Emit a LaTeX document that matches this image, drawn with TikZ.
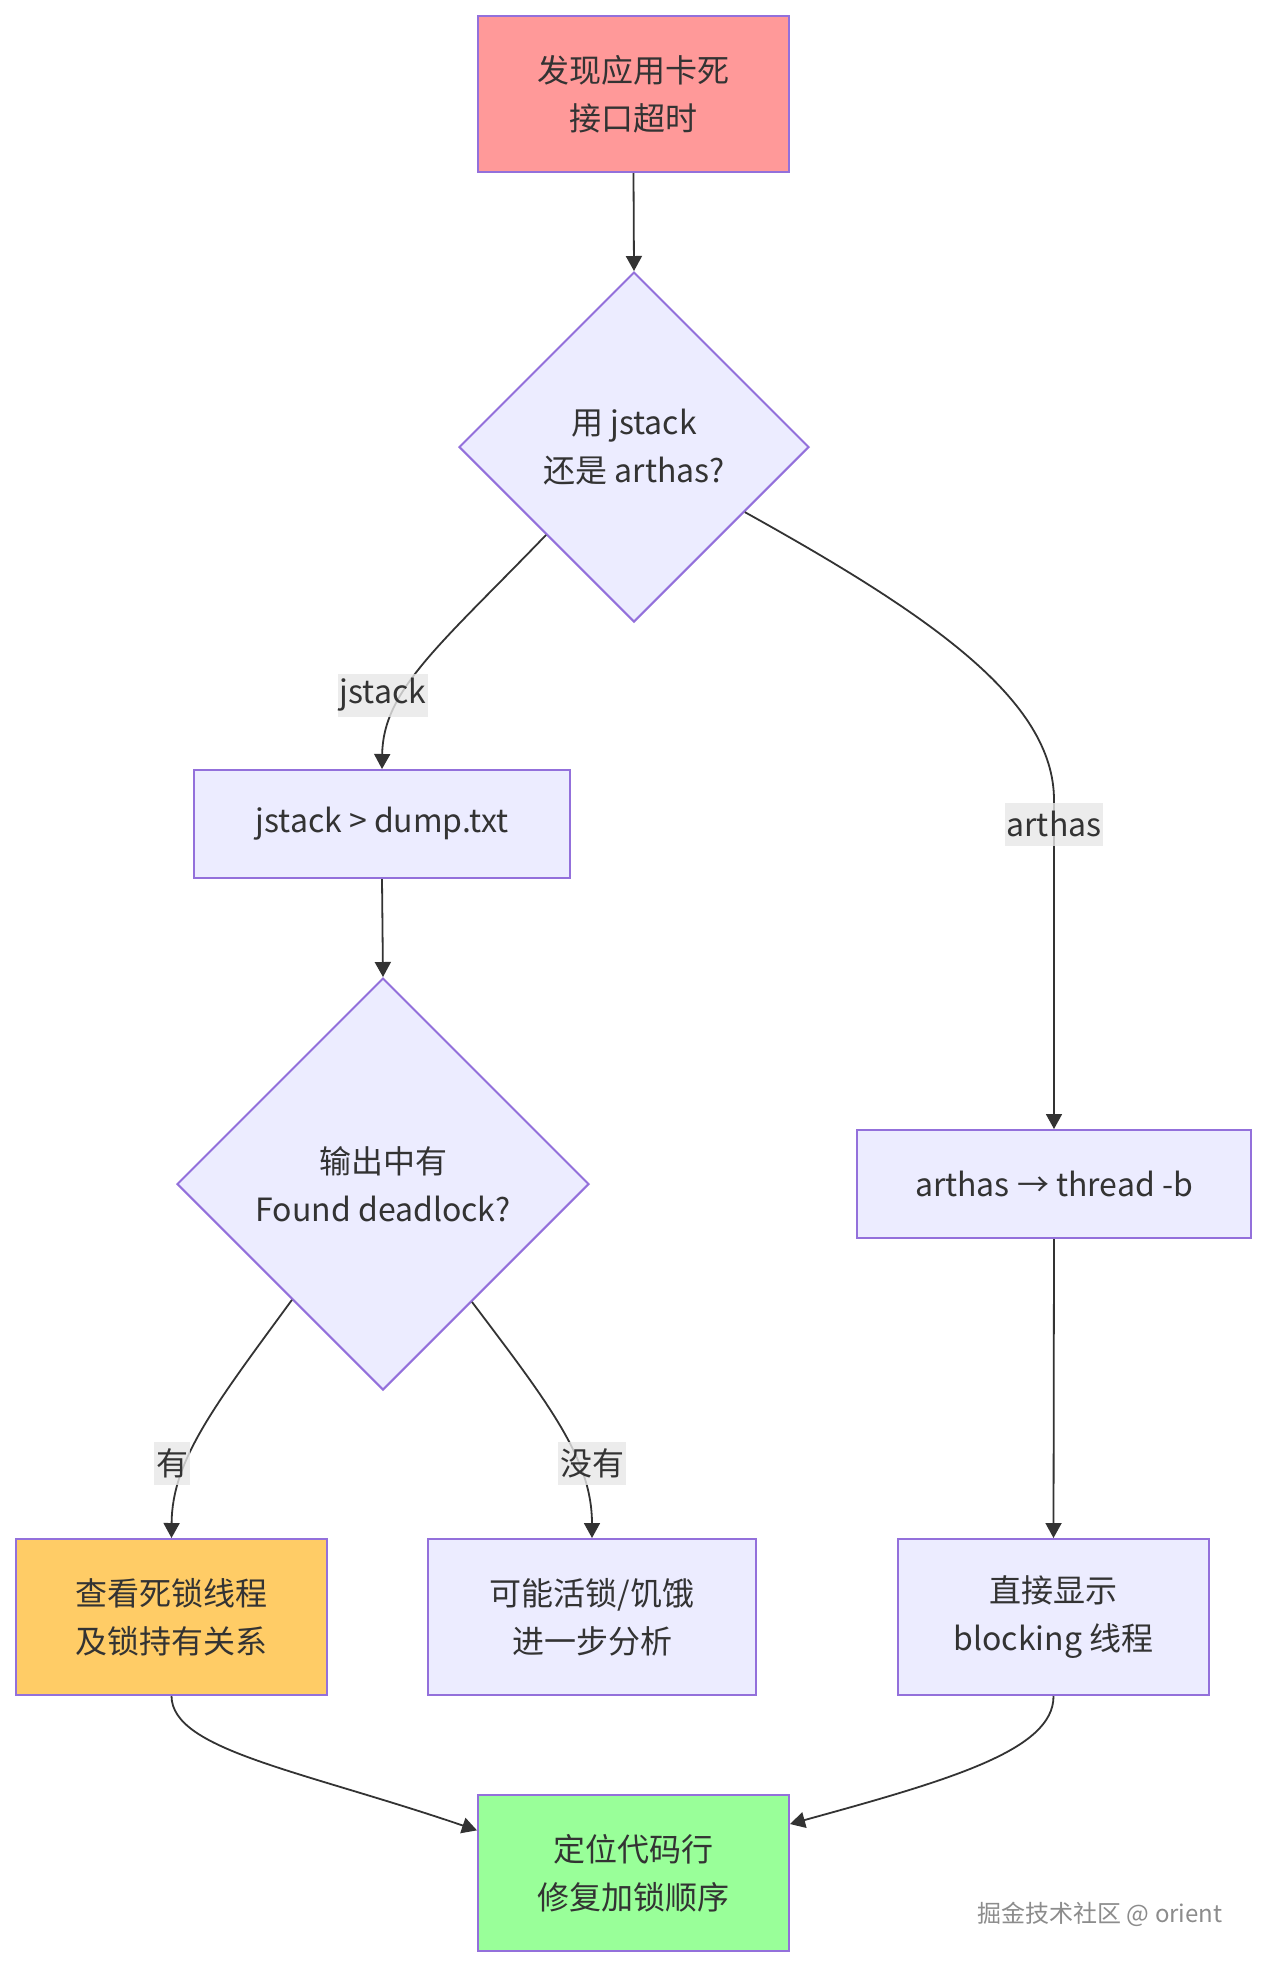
\documentclass[tikz,border=0pt]{standalone}
\usepackage{fontspec}
\setmainfont{Noto Sans CJK SC}
\usetikzlibrary{shapes.geometric, arrows.meta, calc}

\definecolor{nodefill}{HTML}{ECECFF}
\definecolor{nodestroke}{HTML}{9370DB}
\definecolor{edgecol}{HTML}{333333}
\definecolor{txt}{HTML}{333333}
\definecolor{pinkfill}{HTML}{FF9999}
\definecolor{orangefill}{HTML}{FFCC66}
\definecolor{greenfill}{HTML}{99FF99}
\definecolor{lblbg}{HTML}{E8E8E8}
\definecolor{wmark}{HTML}{8C8C8C}

\begin{document}
\begin{tikzpicture}[x=0.5pt,y=-0.5pt,
  every node/.style={font=\fontsize{16pt}{24pt}\selectfont, text=txt},
  box/.style={draw=nodestroke, line width=1pt, fill=nodefill, rectangle, align=center, inner sep=0pt},
  dia/.style={draw=nodestroke, line width=1pt, fill=nodefill, diamond, align=center, inner sep=0pt, minimum width=#1, minimum height=#1},
  lbl/.style={fill=lblbg, fill opacity=0.8, text opacity=1, inner xsep=1pt, inner ysep=0pt, minimum height=21.5pt},
  conn/.style={draw=edgecol, line width=0.9pt, -{Triangle[length=7.5pt,width=8pt]}},
]
\useasboundingbox[fill=white] (0,0) rectangle (1267,1967);

% nodes
\node[box, fill=pinkfill, minimum width=155.5pt, minimum height=78pt] (A) at (633.5,94) {发现应用卡死\\接口超时};
\node[dia=175pt] (B) at (634,447) {用 jstack\\还是 arthas?};
\node[box, minimum width=188pt, minimum height=54pt] (C) at (382,824) {jstack > dump.txt};
\node[dia=206pt] (D) at (383,1184) {输出中有\\Found deadlock?};
\node[box, minimum width=197pt, minimum height=54pt] (E) at (1054,1184) {arthas → thread -b};
\node[box, fill=orangefill, minimum width=155.5pt, minimum height=78pt] (F) at (171.5,1617) {查看死锁线程\\及锁持有关系};
\node[box, minimum width=164pt, minimum height=78pt] (G) at (592,1617) {可能活锁/饥饿\\进一步分析};
\node[box, minimum width=155.5pt, minimum height=78pt] (H) at (1053.5,1617) {直接显示\\blocking 线程};
\node[box, fill=greenfill, minimum width=155.5pt, minimum height=78pt] (I) at (633.5,1873) {定位代码行\\修复加锁顺序};

% connector anchor points
\coordinate (b1) at ($(B.west)!0.5!(B.south)$);
\coordinate (b2) at ($(B.east)!0.37!(B.south)$);
\coordinate (d1) at ($(D.west)!0.56!(D.south)$);
\coordinate (d2) at ($(D.east)!0.57!(D.south)$);
\coordinate (i1) at ($(I.north west)!0.23!(I.south west)$);
\coordinate (i2) at ($(I.north east)!0.19!(I.south east)$);

% connectors
\draw[conn] (A.south) -- (B.north);
\draw[conn] (b1) .. controls (440,645) and (383,690) .. (C.north);
\draw[conn] (b2) .. controls (930,615) and (1054,700) .. (1054,800) -- (E.north);
\draw[conn] (C.south) -- (D.north);
\draw[conn] (d1) .. controls (215,1405) and (172,1460) .. (F.north);
\draw[conn] (d2) .. controls (550,1405) and (592,1460) .. (G.north);
\draw[conn] (E.south) -- (H.north);
\draw[conn] (F.south) .. controls (172,1750) and (300,1770) .. (i1);
\draw[conn] (H.south) .. controls (1054,1750) and (950,1780) .. (i2);

% edge labels
\node[lbl] (Lj) at (383,695) {jstack};
\node[lbl] (La) at (1054,824) {arthas};
\node[lbl] (Ly) at (172,1463) {有};
\node[lbl] (Ln) at (592,1463) {没有};

% watermark
\node[text=wmark, font=\fontsize{12pt}{14pt}\selectfont, inner sep=0pt] (W) at (1100,1914) {掘金技术社区 @ orient};
\end{tikzpicture}
\end{document}
